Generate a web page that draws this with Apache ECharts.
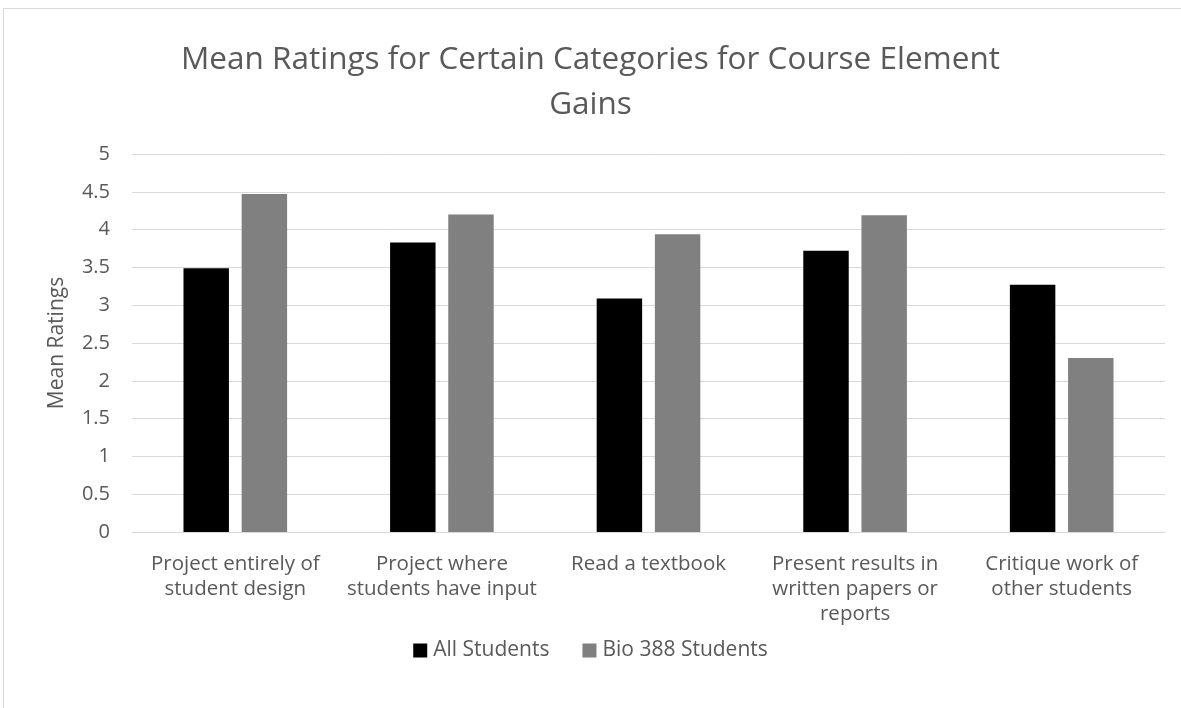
<!DOCTYPE html>
<html><head><meta charset="utf-8">
<script src="https://cdn.jsdelivr.net/npm/echarts@6/dist/echarts.min.js"></script>
<style>html,body{margin:0;padding:0;background:#fff}#c{width:1181px;height:708px}</style>
</head><body><div id="c"></div>
<script>
const categories = ["Project entirely of\nstudent design", "Project where\nstudents have input", "Read a textbook", "Present results in\nwritten papers or\nreports", "Critique work of\nother students"];
const allStudents = [3.49, 3.83, 3.09, 3.72, 3.27];
const bio388Students = [4.47, 4.20, 3.94, 4.19, 2.30];
const seriesNames = ["All Students", "Bio 388 Students"];
const titleText = "Mean Ratings for Certain Categories for Course Element\nGains";
const yAxisName = "Mean Ratings";

const FONT = "Open Sans";
const TXT = "#595959";
const chart = echarts.init(document.getElementById('c'));
chart.setOption({
  animation: false,
  textStyle: {fontFamily: FONT},
  graphic: [{type: 'rect', shape: {x: 3.5, y: 8.5, width: 1200, height: 720}, style: {fill: 'none', stroke: '#d9d9d9', lineWidth: 1}, silent: true}],
  title: {text: titleText, left: 'center', top: 33, textStyle: {fontFamily: FONT, fontSize: 31.5, fontWeight: 'normal', color: TXT, lineHeight: 45}},
  legend: {bottom: 42, left: 'center', itemWidth: 14, itemHeight: 14, itemGap: 33, icon: 'rect',
    textStyle: {fontFamily: FONT, fontSize: 21, color: TXT, padding: [0, 0, 0, 1]}, data: seriesNames},
  grid: {left: 132, right: 16, top: 154, bottom: 176, containLabel: false},
  xAxis: {type: 'category', data: categories,
    axisLine: {lineStyle: {color: '#d9d9d9', width: 1}}, axisTick: {show: false},
    axisLabel: {interval: 0, fontFamily: FONT, fontSize: 20.5, color: TXT, lineHeight: 25, margin: 20}},
  yAxis: {type: 'value', min: 0, max: 5, interval: 0.5,
    name: yAxisName, nameLocation: 'middle', nameGap: 64, nameRotate: 90,
    nameTextStyle: {fontFamily: FONT, fontSize: 21, color: TXT},
    axisLine: {show: false}, axisTick: {show: false},
    axisLabel: {fontFamily: FONT, fontSize: 20, color: TXT, margin: 22},
    splitLine: {lineStyle: {color: '#d9d9d9', width: 1}}},
  series: [
    {name: seriesNames[0], type: 'bar', data: allStudents, barWidth: '22%', barGap: '28%', itemStyle: {color: '#000000'}},
    {name: seriesNames[1], type: 'bar', data: bio388Students, barWidth: '22%', barGap: '28%', itemStyle: {color: '#808080'}}
  ]
});
</script></body></html>
